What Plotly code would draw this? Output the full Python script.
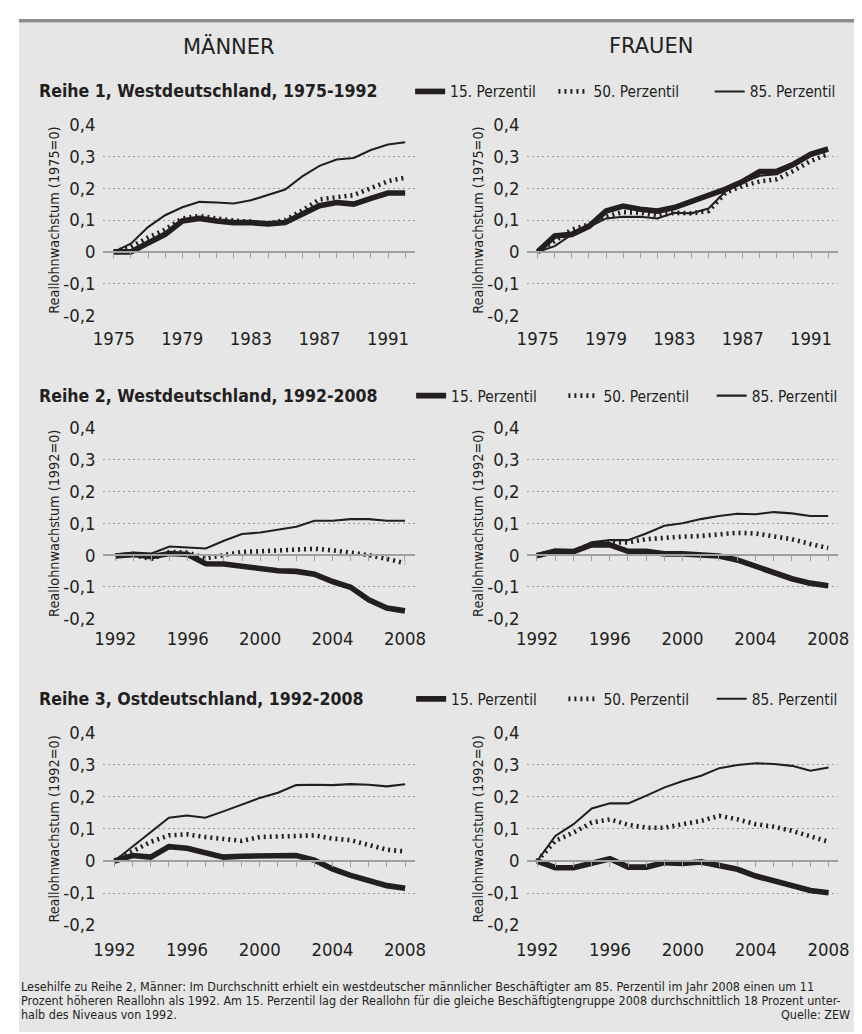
import plotly.graph_objects as go

# The photographed page shows the 862x1034 figure slightly reduced and shifted;
# the layout below is written in reference-pixel units and mapped back to figure px.
W, H = 862, 1034
SX, CX = 0.978, 18.0
SY, CY = 0.979, 18.6

# ---------------- data ----------------
years_r1 = list(range(1975, 1993))
years_r23 = list(range(1992, 2009))
xlabels_r1 = [1975, 1979, 1983, 1987, 1991]
xlabels_r23 = [1992, 1996, 2000, 2004, 2008]
y_ticks = [-0.2, -0.1, 0, 0.1, 0.2, 0.3, 0.4]
y_ticklabels = ["-0,2", "-0,1", "0", "0,1", "0,2", "0,3", "0,4"]

series_names = ["15. Perzentil", "50. Perzentil", "85. Perzentil"]
col_titles = ["MÄNNER", "FRAUEN"]
row_titles = ["Reihe 1, Westdeutschland, 1975-1992",
              "Reihe 2, Westdeutschland, 1992-2008",
              "Reihe 3, Ostdeutschland, 1992-2008"]
y_titles = ["Reallohnwachstum (1975=0)", "Reallohnwachstum (1992=0)", "Reallohnwachstum (1992=0)"]

m1_p15 = [0, 0, 0.028, 0.055, 0.097, 0.105, 0.097, 0.092, 0.092, 0.088, 0.092, 0.12, 0.145, 0.155, 0.15, 0.168, 0.185, 0.185]
m1_p50 = [0, 0.015, 0.045, 0.07, 0.105, 0.113, 0.105, 0.098, 0.095, 0.088, 0.1, 0.13, 0.165, 0.172, 0.178, 0.2, 0.222, 0.233]
m1_p85 = [0, 0.026, 0.078, 0.115, 0.14, 0.157, 0.155, 0.152, 0.162, 0.178, 0.196, 0.237, 0.27, 0.29, 0.295, 0.32, 0.337, 0.344]
f1_p15 = [0, 0.05, 0.055, 0.08, 0.128, 0.144, 0.134, 0.128, 0.139, 0.158, 0.176, 0.197, 0.221, 0.252, 0.253, 0.276, 0.307, 0.323]
f1_p50 = [0, 0.034, 0.07, 0.086, 0.11, 0.125, 0.123, 0.113, 0.123, 0.121, 0.128, 0.186, 0.207, 0.221, 0.228, 0.255, 0.286, 0.307]
f1_p85 = [0, 0.018, 0.055, 0.078, 0.105, 0.11, 0.11, 0.105, 0.123, 0.121, 0.136, 0.19, 0.218, 0.239, 0.244, 0.27, 0.302, 0.32]
m2_p15 = [-0.003, 0.002, -0.005, 0.005, 0.002, -0.027, -0.028, -0.035, -0.044, -0.049, -0.051, -0.06, -0.083, -0.101, -0.14, -0.166, -0.175]
m2_p50 = [-0.003, 0.0, -0.012, 0.01, 0.008, -0.01, 0.0, 0.01, 0.012, 0.015, 0.016, 0.02, 0.015, 0.008, 0.0, -0.012, -0.025]
m2_p85 = [0.002, 0.008, 0.005, 0.027, 0.024, 0.021, 0.045, 0.066, 0.071, 0.079, 0.089, 0.108, 0.108, 0.113, 0.113, 0.108, 0.108]
f2_p15 = [-0.002, 0.013, 0.011, 0.032, 0.032, 0.012, 0.012, 0.004, 0.004, 0.002, -0.003, -0.015, -0.035, -0.051, -0.074, -0.088, -0.096]
f2_p50 = [0, 0.012, 0.012, 0.035, 0.04, 0.04, 0.05, 0.055, 0.058, 0.06, 0.065, 0.07, 0.068, 0.06, 0.05, 0.035, 0.022]
f2_p85 = [0, 0.015, 0.012, 0.04, 0.047, 0.047, 0.068, 0.092, 0.1, 0.113, 0.123, 0.13, 0.128, 0.135, 0.131, 0.123, 0.123]
m3_p15 = [0, 0.017, 0.012, 0.045, 0.04, 0.025, 0.012, 0.015, 0.017, 0.015, 0.017, 0.003, -0.025, -0.045, -0.063, -0.077, -0.085]
m3_p50 = [0, 0.03, 0.06, 0.08, 0.083, 0.075, 0.068, 0.063, 0.075, 0.075, 0.078, 0.08, 0.07, 0.065, 0.05, 0.035, 0.03]
m3_p85 = [0, 0.045, 0.09, 0.135, 0.142, 0.135, 0.155, 0.175, 0.197, 0.213, 0.237, 0.238, 0.237, 0.24, 0.238, 0.233, 0.24]
f3_p15 = [0, -0.021, -0.021, -0.008, 0.007, -0.019, -0.019, -0.005, -0.008, -0.003, -0.014, -0.026, -0.047, -0.063, -0.076, -0.092, -0.099]
f3_p50 = [0, 0.063, 0.089, 0.12, 0.13, 0.113, 0.104, 0.104, 0.115, 0.125, 0.141, 0.13, 0.115, 0.107, 0.094, 0.076, 0.06]
f3_p85 = [0, 0.078, 0.115, 0.164, 0.18, 0.18, 0.204, 0.23, 0.25, 0.266, 0.29, 0.3, 0.305, 0.303, 0.297, 0.282, 0.292]

footer_lines = [
    "Lesehilfe zu Reihe 2, Männer: Im Durchschnitt erhielt ein westdeutscher männlicher Beschäftigter am 85. Perzentil im Jahr 2008 einen um 11",
    "Prozent höheren Reallohn als 1992. Am 15. Perzentil lag der Reallohn für die gleiche Beschäftigtengruppe 2008 durchschnittlich 18 Prozent unter-",
    "halb des Niveaus von 1992.",
]
source_text = "Quelle: ZEW"

# ---------------- styling / layout ----------------
INK = "#231f20"
GRID = "#9a9a9a"
AXIS = "#a0a0a0"
BG = "#e6e6e7"
BAND = "#8c8c8c"
FONT = "DejaVu Sans Condensed, DejaVu Sans, sans-serif"
FONT_WIDE = "DejaVu Sans, sans-serif"


def fs(size):
    return size / SX


def px_x(p):
    return min(1.0, max(0.0, (p - CX) / SX / W))


def px_y(p):
    return min(1.0, max(0.0, 1 - (p - CY) / SY / H))


# positions below are reference pixels
col_px = [(102, 416), (528, 841)]
row_px = [(124, 315), (427, 618), (732, 924)]  # pixel rows of 0.4 and -0.2
x_ranges = [
    [[1974.35, 1992.58], [1974.35, 1992.58]],
    [[1991.30, 2008.56], [1991.43, 2008.54]],
    [[1991.35, 2008.55], [1991.42, 2008.52]],
]
label_standoff = [64, 61, 66]
Y_MIN, Y_MAX = -0.2, 0.4

panels = [
    (0, 0, years_r1, m1_p15, m1_p50, m1_p85, xlabels_r1),
    (0, 1, years_r1, f1_p15, f1_p50, f1_p85, xlabels_r1),
    (1, 0, years_r23, m2_p15, m2_p50, m2_p85, xlabels_r23),
    (1, 1, years_r23, f2_p15, f2_p50, f2_p85, xlabels_r23),
    (2, 0, years_r23, m3_p15, m3_p50, m3_p85, xlabels_r23),
    (2, 1, years_r23, f3_p15, f3_p50, f3_p85, xlabels_r23),
]

line_styles = [
    dict(color=INK, width=fs(5.5), dash="solid"),
    dict(color=INK, width=fs(4.5), dash="2px,4px"),
    dict(color=INK, width=fs(2), dash="solid"),
]

legend_text_px = [[449, 593, 750], [450, 603, 752], [450, 603, 752]]
legend_y_px = [91, 395, 698]

fig = go.Figure()
layout = dict(
    width=W, height=H,
    margin=dict(l=0, r=0, t=0, b=0),
    paper_bgcolor="white",
    plot_bgcolor="rgba(0,0,0,0)",
    showlegend=True,
    font=dict(family=FONT, color=INK),
)

for i, (r, c, years, p15, p50, p85, xlabels) in enumerate(panels, start=1):
    xa = "x" if i == 1 else f"x{i}"
    ya = "y" if i == 1 else f"y{i}"
    for k in [2, 1, 0]:
        vals = [p15, p50, p85][k]
        idx = r * 3 + k
        legend_name = "legend" if idx == 0 else f"legend{idx + 1}"
        fig.add_trace(go.Scatter(
            x=years, y=vals, mode="lines", name=series_names[k],
            line=line_styles[k], xaxis=xa, yaxis=ya,
            showlegend=(c == 0), legend=legend_name, hoverinfo="skip",
        ))

    y0d, y1d = px_y(row_px[r][1]), px_y(row_px[r][0])
    zero_pos = y0d + (0 - Y_MIN) / (Y_MAX - Y_MIN) * (y1d - y0d)
    layout["xaxis" if i == 1 else f"xaxis{i}"] = dict(
        domain=[px_x(col_px[c][0]), px_x(col_px[c][1])],
        range=x_ranges[r][c],
        anchor="free", position=zero_pos,
        showline=True, linecolor=AXIS, linewidth=fs(1.5),
        ticks="outside", ticklen=fs(5), tickwidth=1, tickcolor=AXIS,
        tickvals=years,
        ticktext=[str(y) if y in xlabels else "" for y in years],
        ticklabelstandoff=round(fs(label_standoff[r])),
        tickfont=dict(family=FONT, size=fs(18), color=INK),
        showgrid=False, zeroline=False, fixedrange=True,
    )
    layout["yaxis" if i == 1 else f"yaxis{i}"] = dict(
        domain=[y0d, y1d],
        range=[Y_MIN, Y_MAX],
        anchor=xa,
        tickvals=y_ticks, ticktext=y_ticklabels,
        tickfont=dict(family=FONT, size=fs(18), color=INK),
        ticks="", ticklabelstandoff=round(fs(6)),
        showgrid=True, gridcolor=GRID, griddash="2px,3px", gridwidth=1,
        zeroline=False, showline=False, fixedrange=True,
        title=dict(text=y_titles[r], font=dict(family=FONT, size=fs(14), color=INK), standoff=0),
    )

for r in range(3):
    for k in range(3):
        idx = r * 3 + k
        name = "legend" if idx == 0 else f"legend{idx + 1}"
        layout[name] = dict(
            x=px_x(legend_text_px[r][k] - 38), xref="paper", xanchor="left",
            y=px_y(legend_y_px[r]), yref="paper", yanchor="middle",
            orientation="h", bgcolor="rgba(0,0,0,0)", borderwidth=0,
            font=dict(family=FONT, size=fs(15), color=INK),
            itemclick=False, itemdoubleclick=False,
        )

annotations = []
for c, (t, cx) in enumerate(zip(col_titles, [229, 653])):
    annotations.append(dict(
        text=t, x=px_x(cx), y=px_y(46), xref="paper", yref="paper",
        xanchor="center", yanchor="middle", showarrow=False,
        font=dict(family=FONT_WIDE, size=fs(20.5), color=INK),
    ))
for r, t in enumerate(row_titles):
    annotations.append(dict(
        text=t, x=px_x(36), y=px_y(legend_y_px[r]), xref="paper", yref="paper",
        xanchor="left", yanchor="middle", showarrow=False,
        font=dict(family=FONT, size=fs(17.2), color=INK, weight="bold"),
    ))
for j, t in enumerate(footer_lines):
    annotations.append(dict(
        text=t, x=px_x(11), y=px_y(985 + 14 * j), xref="paper", yref="paper",
        xanchor="left", yanchor="middle", showarrow=False,
        font=dict(family=FONT, size=fs(12.2), color=INK),
    ))
annotations.append(dict(
    text=source_text, x=px_x(855), y=px_y(1013), xref="paper", yref="paper",
    xanchor="right", yanchor="middle", showarrow=False,
    font=dict(family=FONT, size=fs(12.2), color=INK),
))
layout["annotations"] = annotations

BAND_FIG_PX = 3.7  # top border band, in figure pixels
layout["shapes"] = [
    dict(type="rect", xref="paper", yref="paper", x0=0, x1=1, y0=0, y1=1 - BAND_FIG_PX / H,
         fillcolor=BG, line=dict(width=0), layer="below"),
    dict(type="rect", xref="paper", yref="paper", x0=0, x1=1, y0=1 - BAND_FIG_PX / H, y1=1,
         fillcolor=BAND, line=dict(width=0), layer="below"),
]

fig.update_layout(**layout)
fig.write_html("out.html", config={"displayModeBar": False})
